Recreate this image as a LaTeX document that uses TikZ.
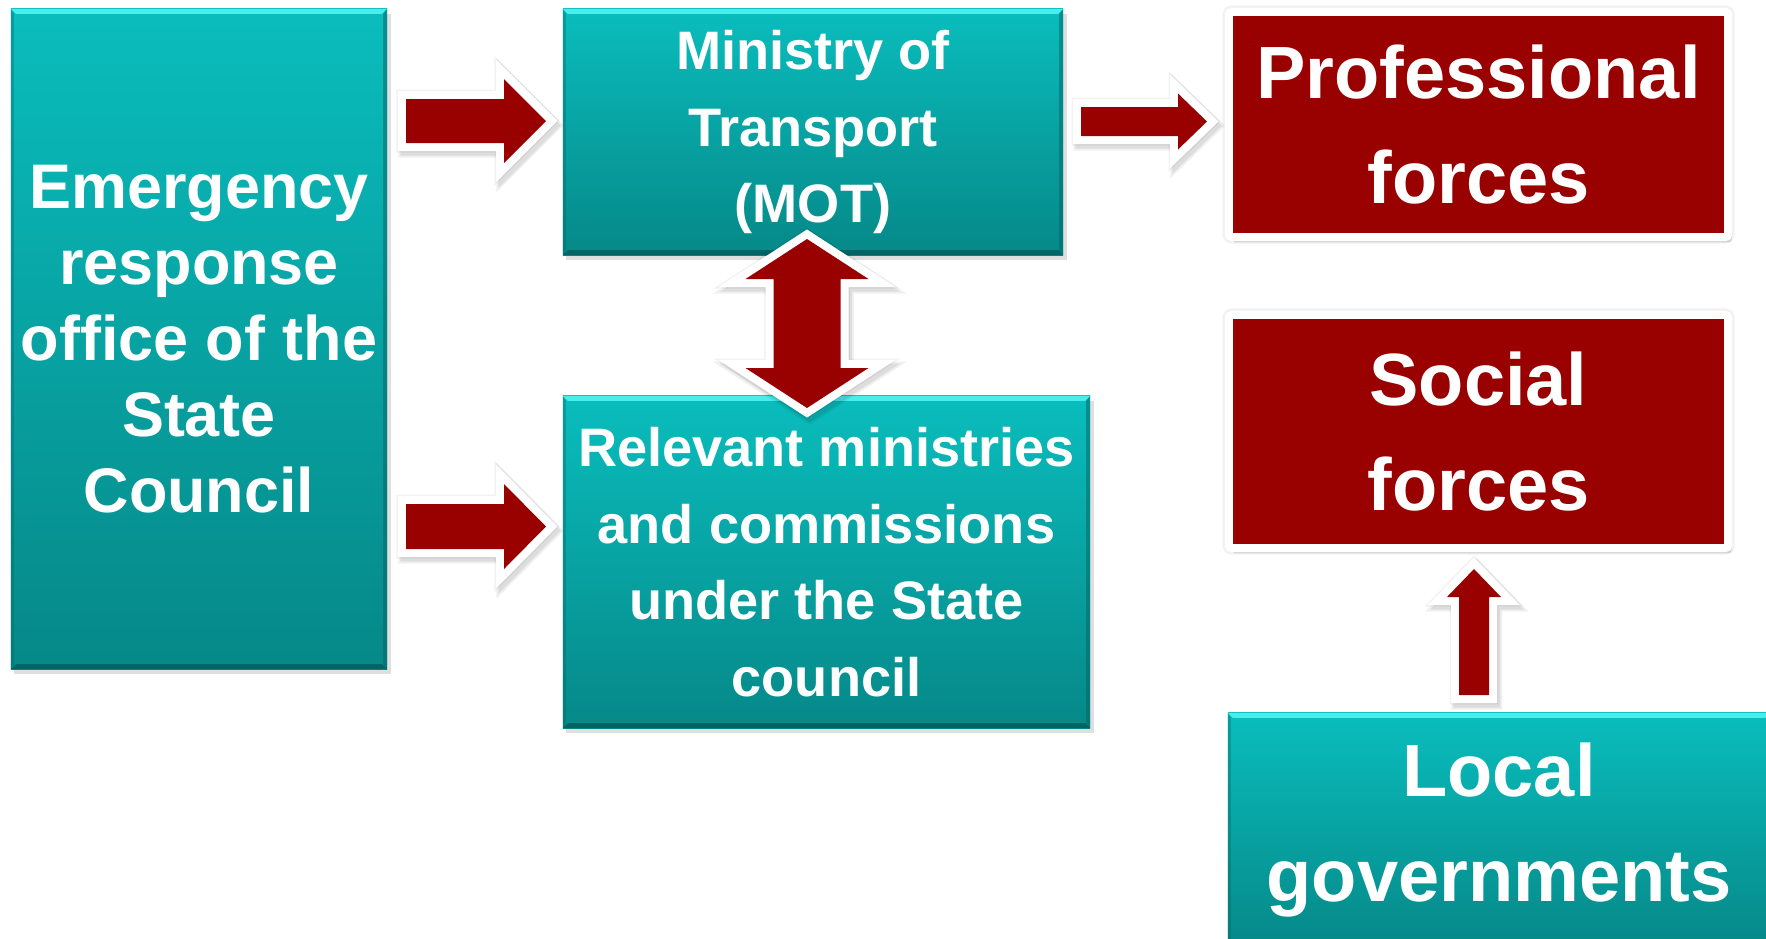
\documentclass[tikz,border=0pt]{standalone}
\usepackage{fontspec}
\setmainfont{Liberation Sans}
\usetikzlibrary{calc,shadows}
\definecolor{tealtop}{RGB}{10,189,189}
\definecolor{tealbot}{RGB}{6,136,136}
\definecolor{tealhi}{RGB}{72,238,238}
\definecolor{tealdk}{RGB}{4,100,100}
\definecolor{darkred}{RGB}{153,0,0}
\newcommand{\rightblock}[5]{\path[blockarrow] ($(#1)+(0,#3)$) -- ($(#2)+(-#5,#3)$) -- ($(#2)+(-#5,#4)$) -- (#2) -- ($(#2)+(-#5,-#4)$) -- ($(#2)+(-#5,-#3)$) -- ($(#1)+(0,-#3)$) -- cycle;}
\newcommand{\upblock}[5]{\path[blockarrow] ($(#1)+(-#3,0)$) -- ($(#2)+(-#3,#5)$) -- ($(#2)+(-#4,#5)$) -- (#2) -- ($(#2)+(#4,#5)$) -- ($(#2)+(#3,#5)$) -- ($(#1)+(#3,0)$) -- cycle;}
\newcommand{\bothblock}[5]{\path[blockarrow] (#1) -- ($(#1)+(#4,#5)$) -- ($(#1)+(#3,#5)$) -- ($(#2)+(#3,-#5)$) -- ($(#2)+(#4,-#5)$) -- (#2) -- ($(#2)+(-#4,-#5)$) -- ($(#2)+(-#3,-#5)$) -- ($(#1)+(-#3,#5)$) -- ($(#1)+(-#4,#5)$) -- cycle;}
\begin{document}
\begin{tikzpicture}[x=0.01cm, y=-0.01cm,
  emtext/.style={font=\fontsize{17.9}{21.6}\selectfont\bfseries},
  midtext/.style={font=\fontsize{15.4}{21.8}\selectfont\bfseries},
  bigtext/.style={font=\fontsize{21.05}{29.6}\selectfont\bfseries},
  tealbox/.style={inner sep=0pt, align=center, text=white, top color=tealtop, bottom color=tealbot,
    drop shadow={shadow xshift=1pt, shadow yshift=-1.5pt, opacity=0.25},
    path picture={
      \fill[tealhi] (path picture bounding box.north west) -- (path picture bounding box.north east) -- ([shift={(-5,5)}]path picture bounding box.north east) -- ([shift={(5,5)}]path picture bounding box.north west) -- cycle;
      \fill[tealdk] (path picture bounding box.south west) -- (path picture bounding box.south east) -- ([shift={(-5,-5)}]path picture bounding box.south east) -- ([shift={(5,-5)}]path picture bounding box.south west) -- cycle;
      \fill[tealdk, opacity=0.5] (path picture bounding box.north east) -- (path picture bounding box.south east) -- ([shift={(-4,-5)}]path picture bounding box.south east) -- ([shift={(-4,5)}]path picture bounding box.north east) -- cycle;
      \fill[tealdk, opacity=0.35] (path picture bounding box.north west) -- (path picture bounding box.south west) -- ([shift={(3,-5)}]path picture bounding box.south west) -- ([shift={(3,5)}]path picture bounding box.north west) -- cycle;
    }},
  redbox/.style={inner sep=0pt, align=center, text=white, fill=darkred, draw=white, line width=0.08cm,
    rounded corners=0.03cm, drop shadow={shadow xshift=1pt, shadow yshift=-1.5pt, opacity=0.25},
    preaction={draw=black, opacity=0.05, line width=0.13cm}},
  blockarrow/.style={fill=darkred,
    preaction={draw=black, opacity=0.06, line width=0.21cm, line join=miter, transform canvas={xshift=0.8pt, yshift=-1.2pt}},
    preaction={draw=black, opacity=0.08, line width=0.17cm, line join=miter, transform canvas={xshift=0.8pt, yshift=-1.2pt}},
    preaction={draw=black, opacity=0.05, line width=0.19cm, line join=miter},
    preaction={draw=white, line width=0.16cm, line join=miter}}]
\useasboundingbox (0,0) rectangle (1766,938);
\fill[white] (0,0) rectangle (1766,938);
\clip (0,0) rectangle (1766,938);
\node[tealbox, emtext, minimum width=3.76cm, minimum height=6.60cm] (office) at (199,339) {Emergency\\response\\office of the\\State\\Council};
\node[tealbox, midtext, minimum width=5.00cm, minimum height=2.46cm] (mot) at (813,132) {Ministry of\\Transport\\(MOT)};
\node[tealbox, midtext, minimum width=5.27cm, minimum height=3.32cm] (ministries) at (826.5,562) {Relevant ministries\\and commissions\\under the State\\council};
\node[redbox, bigtext, minimum width=4.99cm, minimum height=2.25cm] (professional) at (1478.5,124.5) {Professional\\forces};
\node[redbox, bigtext, minimum width=4.99cm, minimum height=2.33cm] (social) at (1478.5,431.5) {Social\\forces};
\node[tealbox, bigtext, minimum width=5.42cm, minimum height=2.34cm] (local) at (1499,830) {Local\\governments};
\coordinate (tomot) at (546,121);
\coordinate (fromoffice) at (406,121);
\coordinate (tomin) at (546,526.5);
\coordinate (fromoffice2) at (406,526.5);
\coordinate (toprof) at (1207,121.5);
\coordinate (frommot) at (1081,121.5);
\coordinate (tosocial) at (1474,569);
\coordinate (fromlocal) at (1474,695);
\coordinate (motend) at (807,239);
\coordinate (minend) at (807,408);
\rightblock{fromoffice}{tomot}{22}{42}{42}
\rightblock{fromoffice2}{tomin}{22.5}{42.5}{42}
\rightblock{frommot}{toprof}{14.5}{28}{29}
\upblock{fromlocal}{tosocial}{15}{27}{28}
\bothblock{motend}{minend}{33.5}{61.5}{40}
\end{tikzpicture}
\end{document}
